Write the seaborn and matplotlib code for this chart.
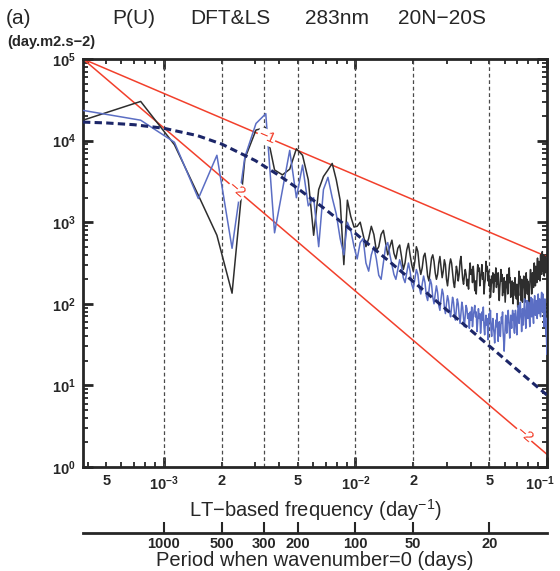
import numpy as np
import pandas as pd
import seaborn as sns
import matplotlib.pyplot as plt
from matplotlib.ticker import FixedLocator, FuncFormatter, NullLocator
from matplotlib.transforms import ScaledTranslation

N_DAYS = 2645  # record length, sets the harmonic spacing of both spectra

# log10 of power (day.m2.s-2), harmonic k = 1, 2, 3, ...
dft_log = [
    4.25, 4.48, 3.95, 3.33, 2.84, 2.13, 3.78, 4.13, 4.16, 3.64,
    3.58, 3.65, 3.90, 3.82, 3.52, 2.84, 3.40, 3.56, 3.64, 3.72,
    3.52, 3.27, 2.48, 3.27, 3.07, 2.94, 2.95, 3.00, 2.85, 2.70,
    2.80, 2.95, 2.85, 2.65, 2.70, 2.85, 2.90, 2.75, 2.60, 2.70,
    2.78, 2.62, 2.55, 2.68, 2.72, 2.58, 2.42, 2.50, 2.66, 2.74,
    2.60, 2.48, 2.40, 2.52, 2.70, 2.64, 2.46, 2.36, 2.44, 2.58,
    2.62, 2.50, 2.34, 2.28, 2.42, 2.56, 2.60, 2.52, 2.38, 2.30,
    2.36, 2.50, 2.58, 2.45, 2.32, 2.40, 2.54, 2.48, 2.30, 2.22,
    2.34, 2.48, 2.55, 2.50, 2.38, 2.26, 2.20, 2.32, 2.46, 2.40,
    2.28, 2.36, 2.52, 2.58, 2.44, 2.30, 2.24, 2.34, 2.42, 2.36,
    2.22, 2.30, 2.18, 2.38, 2.50, 2.36, 2.42, 2.26, 2.46, 2.34,
    2.16, 2.28, 2.12, 2.32, 2.48, 2.40, 2.44, 2.22, 2.30, 2.40,
    2.48, 2.30, 2.38, 2.12, 2.24, 2.30, 2.52, 2.40, 2.46, 2.28,
    2.40, 2.22, 2.30, 2.08, 2.18, 2.34, 2.26, 2.38, 2.14, 2.22,
    2.36, 2.28, 2.44, 2.20, 2.32, 2.24, 2.38, 2.12, 2.04, 2.20,
    2.30, 2.42, 2.28, 2.36, 2.10, 2.22, 2.14, 2.32, 2.18, 2.02,
    2.16, 2.28, 2.20, 2.36, 2.12, 2.24, 2.34, 2.44, 2.26, 2.32,
    2.08, 2.18, 2.10, 2.28, 2.20, 2.00, 2.12, 2.26, 2.18, 2.32,
    2.10, 2.20, 2.06, 2.24, 2.16, 1.96, 2.14, 2.28, 2.40, 2.26,
    2.34, 2.10, 2.18, 2.04, 2.30, 2.20, 2.02, 2.16, 2.26, 2.34,
    2.20, 2.28, 2.02, 2.12, 2.26, 2.38, 2.22, 2.30, 2.12, 2.28,
    2.18, 2.08, 1.98, 2.14, 2.24, 2.34, 2.42, 2.28, 2.36, 2.12,
    2.26, 2.38, 2.24, 2.32, 2.20, 2.44, 2.50, 2.34, 2.40, 2.22,
    2.46, 2.32, 2.40, 2.26, 2.48, 2.56, 2.40, 2.46, 2.30, 2.52,
    2.38, 2.46, 2.28, 2.50, 2.60, 2.44, 2.52, 2.36, 2.58, 2.64,
    2.46, 2.54, 2.40, 2.60, 2.44, 2.34, 2.50, 2.58, 2.42, 2.52,
    2.38, 2.56, 2.44, 2.48,
]
ls_log = [
    4.37, 4.25, 3.98, 3.29, 3.82, 2.68, 3.80, 4.21, 4.33, 2.87,
    3.40, 3.88, 3.30, 3.70, 3.20, 3.30, 2.70, 3.40, 3.55, 3.30,
    3.10, 2.80, 2.60, 3.00, 2.90, 2.70, 2.55, 2.75, 2.80, 2.50,
    2.40, 2.60, 2.70, 2.55, 2.35, 2.30, 2.50, 2.70, 2.75, 2.60,
    2.48, 2.36, 2.30, 2.42, 2.54, 2.46, 2.32, 2.26, 2.38, 2.50,
    2.40, 2.24, 2.18, 2.30, 2.42, 2.36, 2.20, 2.12, 2.24, 2.34,
    2.26, 2.10, 2.04, 2.16, 2.30, 2.24, 2.08, 2.00, 2.12, 2.22,
    2.14, 1.98, 1.92, 2.06, 2.18, 2.12, 1.96, 1.88, 2.00, 2.10,
    2.04, 1.90, 1.84, 1.96, 2.08, 2.02, 1.88, 1.80, 1.94, 2.06,
    2.00, 1.86, 1.76, 1.88, 2.02, 1.96, 1.82, 1.72, 1.86, 1.98,
    1.94, 1.82, 1.88, 1.70, 1.90, 1.80, 1.96, 1.72, 1.84, 1.92,
    1.98, 1.84, 1.90, 1.66, 1.78, 1.94, 1.82, 1.88, 1.64, 1.76,
    1.90, 1.80, 1.96, 1.72, 1.62, 1.76, 1.86, 1.74, 1.82, 1.56,
    1.70, 1.88, 1.78, 1.92, 1.68, 1.60, 1.74, 1.82, 1.70, 1.64,
    1.52, 1.68, 1.80, 1.72, 1.88, 1.64, 1.54, 1.70, 1.78, 1.66,
    1.60, 1.74, 1.84, 1.76, 1.90, 1.66, 1.56, 1.42, 1.58, 1.72,
    1.86, 1.74, 1.64, 1.76, 1.82, 1.92, 1.78, 1.70, 1.58, 1.74,
    1.86, 1.78, 1.70, 1.84, 1.92, 1.80, 1.88, 1.68, 1.64, 1.78,
    1.92, 1.84, 1.74, 1.62, 1.80, 1.90, 1.98, 1.86, 1.76, 1.84,
    1.94, 2.02, 1.88, 1.80, 1.66, 1.82, 1.94, 1.86, 1.74, 1.88,
    1.98, 2.06, 1.90, 1.82, 1.70, 1.86, 1.96, 2.04, 1.90, 1.82,
    1.86, 2.02, 1.92, 1.84, 1.72, 1.88, 1.98, 2.08, 1.94, 1.84,
    1.92, 2.06, 1.96, 1.82, 1.76, 1.92, 2.02, 2.10, 1.96, 1.86,
    1.94, 2.04, 2.00, 1.84, 1.82, 1.90, 2.08, 2.12, 1.98, 1.88,
    1.98, 2.06, 2.04, 1.86, 1.84, 1.98, 2.08, 2.14, 2.00, 1.90,
    1.96, 2.12, 2.02, 1.88, 1.72, 1.86, 2.02, 2.06, 1.90, 1.70,
    1.62, 1.82, 1.56, 1.38,
]

# red-noise fit (dashed navy)
fit_freq = [3.78e-4, 5e-4, 7e-4, 1e-3, 1.5e-3, 2e-3, 3e-3, 4e-3, 5e-3, 7e-3,
            1e-2, 1.5e-2, 2e-2, 3e-2, 5e-2, 1e-1]
fit_power = [16850, 16460, 15650, 14160, 11490, 9080, 5690, 3730, 2590, 1425,
             728, 331, 188, 84, 30.4, 7.6]

# reference power laws (slopes -1 and -2)
ref_freq = [3.78e-4, 1e-1]
slope1_power = [1e5, 378]
slope2_power = [1e5, 1.43]

period_days = [1000, 500, 300, 200, 100, 50, 20]

title_words = ['P(U)', 'DFT&LS', '283nm', '20N\u221220S']

sns.set_style("ticks")
plt.rcParams['font.family'] = ['Liberation Sans', 'DejaVu Sans']
plt.rcParams['mathtext.fontset'] = 'custom'
plt.rcParams['mathtext.rm'] = 'Liberation Sans'
plt.rcParams['mathtext.bf'] = 'Liberation Sans:bold'

fig = plt.figure(figsize=(5.6, 5.71), dpi=100)
ax = fig.add_axes([83 / 560, 1 - 467 / 571, 464 / 560, 408 / 571])
ax.set_xscale('log')
ax.set_yscale('log')
ax.set_xlim(3.78e-4, 1e-1)
ax.set_ylim(1, 1e5)

for p in period_days:
    ax.axvline(1 / p, color='#4a4a4a', lw=0.9, dashes=(3, 2.2), zorder=1)

red = '#f2402c'
sns.lineplot(x=ref_freq, y=slope1_power, ax=ax, color=red, lw=1.1, zorder=2)
sns.lineplot(x=ref_freq, y=slope2_power, ax=ax, color=red, lw=1.1, zorder=2)

spec = pd.DataFrame({
    'freq': np.arange(1, len(dft_log) + 1) / N_DAYS,
    'dft': np.power(10.0, dft_log),
    'ls': np.power(10.0, ls_log),
})
sns.lineplot(data=spec, x='freq', y='dft', ax=ax, color='#2e2e2e', lw=1.1,
             estimator=None, sort=False, zorder=3)
sns.lineplot(data=spec, x='freq', y='ls', ax=ax, color='#5b6ec4', lw=1.1,
             estimator=None, sort=False, zorder=4)
ax.plot(fit_freq, fit_power, color='#1c2668', lw=2.2, dashes=(2.4, 1.4), zorder=5)

# slope annotations sitting on the red lines
for f, power, slope, ang in [(3.43e-3, slope1_power, -1, -23),
                             (2.4e-3, slope2_power, -2, -40),
                             (7.6e-2, slope2_power, -2, -40)]:
    yv = power[0] * (f / ref_freq[0]) ** slope
    ax.text(f, yv, '\u2212' + str(-slope), color=red, fontsize=11, rotation=ang,
            ha='center', va='center', rotation_mode='anchor', zorder=6,
            bbox=dict(facecolor='white', edgecolor='none', pad=0.5))

ax.set_ylabel('')
ax.set_xlabel('LT\u2212based frequency (day$^{-1}$)', fontsize=14.5, labelpad=3)

# x ticks
ax.xaxis.set_major_locator(FixedLocator([1e-3, 1e-2, 1e-1]))
ax.xaxis.set_major_formatter(FuncFormatter(
    lambda v, pos: r'$\mathbf{10^{%d}}$' % round(np.log10(v))))
minor_x = [m * 10.0 ** e for e in (-4, -3, -2) for m in range(2, 10)]
ax.xaxis.set_minor_locator(FixedLocator(minor_x))


def minor_label(v, pos):
    m = round(v / 10 ** np.floor(np.log10(v) + 1e-9))
    return str(m) if m in (2, 5) else ''


ax.xaxis.set_minor_formatter(FuncFormatter(minor_label))

ax.yaxis.set_major_locator(FixedLocator([10.0 ** e for e in range(0, 6)]))
ax.yaxis.set_major_formatter(FuncFormatter(
    lambda v, pos: r'$\mathbf{10^{%d}}$' % round(np.log10(v))))
ax.yaxis.set_minor_locator(FixedLocator(
    [m * 10.0 ** e for e in range(0, 5) for m in range(2, 10)]))

ax.tick_params(which='both', direction='in', top=True, right=True,
               labelsize=10.5, width=1.3, pad=5)
ax.tick_params(which='major', length=7, width=2)
ax.tick_params(which='minor', length=3.5)
for lab in ax.get_xticklabels(which='both'):
    lab.set_fontweight('bold')
for s in ax.spines.values():
    s.set_linewidth(2)

# keep the last decade label inside the canvas
fig.canvas.draw()
last = ax.xaxis.get_major_ticks()[-1].label1
last.set_transform(last.get_transform() +
                   ScaledTranslation(-5 / 72, 0, fig.dpi_scale_trans))

# period axis below
sec = ax.secondary_xaxis(-0.162)
sec.set_xticks([1 / p for p in period_days], labels=[str(p) for p in period_days])
sec.xaxis.set_minor_locator(NullLocator())
sec.tick_params(direction='in', length=8, width=1.5, labelsize=10.5, pad=3)
for lab in sec.get_xticklabels():
    lab.set_fontweight('bold')
sec.spines['bottom'].set_linewidth(2)
sec.set_xlabel('Period when wavenumber=0 (days)', fontsize=14.5, labelpad=0)

fig.text(6 / 560, 1 - 18 / 571, '(a)', fontsize=15, va='center')
for word, x0 in zip(title_words, [112, 190, 305, 398]):
    fig.text(x0 / 560, 1 - 18 / 571, word, fontsize=15, va='center')
fig.text(7 / 560, 1 - 42 / 571, '(day.m2.s\u22122)', fontsize=10.5,
         fontweight='bold', va='center')

fig.savefig('out.png', dpi=100)
